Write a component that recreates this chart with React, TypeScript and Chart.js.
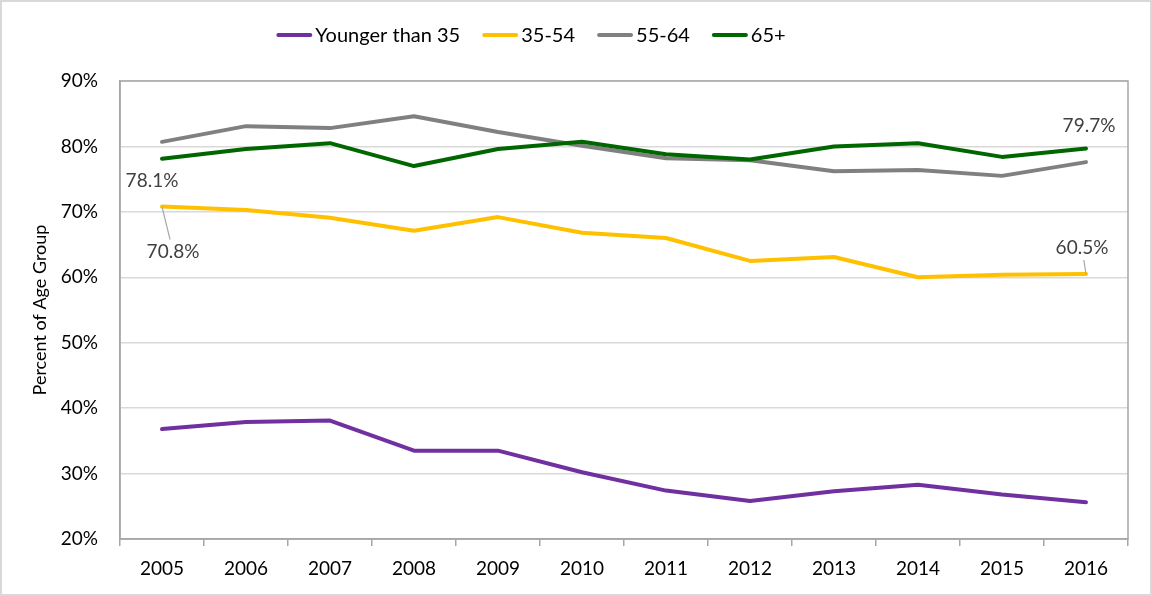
import { useEffect, useRef } from "react";
import { Chart, registerables } from "chart.js";

Chart.register(...registerables);

const years = ["2005", "2006", "2007", "2008", "2009", "2010", "2011", "2012", "2013", "2014", "2015", "2016"];
const youngerThan35 = [36.8, 37.9, 38.1, 33.5, 33.5, 30.2, 27.4, 25.8, 27.3, 28.3, 26.8, 25.6];
const age35to54 = [70.8, 70.3, 69.1, 67.1, 69.2, 66.8, 66.0, 62.5, 63.1, 60.0, 60.4, 60.5];
const age55to64 = [80.7, 83.1, 82.8, 84.6, 82.2, 80.1, 78.2, 77.9, 76.2, 76.4, 75.5, 77.6];
const age65plus = [78.1, 79.6, 80.5, 77.0, 79.6, 80.7, 78.8, 78.0, 80.0, 80.5, 78.4, 79.7];
const seriesNames = ["Younger than 35", "35-54", "55-64", "65+"];
const seriesColors = ["#7030a0", "#ffc000", "#808080", "#006600"];
const yMin = 20;
const yMax = 90;
const yStep = 10;
const yTitle = "Percent of Age Group";

// annotated points: [datasetIndex, pointIndex]
const labelledPoints = [
  [3, 0],
  [1, 0],
  [3, 11],
  [1, 11],
];
// label offsets relative to the point + optional leader line
const labelStyles = [
  { dx: -10, dy: 22, leader: false },
  { dx: 11, dy: 45, leader: true },
  { dx: 3, dy: -23, leader: false },
  { dx: -4, dy: -26, leader: true },
];

const fontFamily = "Lato, 'Open Sans', sans-serif";

const framePlugin = {
  id: "frame",
  beforeDraw(chart: any) {
    const ctx = chart.ctx;
    ctx.save();
    ctx.fillStyle = "#ffffff";
    ctx.fillRect(0, 0, chart.width, chart.height);
    ctx.strokeStyle = "#d9d9d9";
    ctx.lineWidth = 2;
    ctx.strokeRect(1, 1, chart.width - 2, chart.height - 2);
    ctx.restore();
  },
  beforeDatasetsDraw(chart: any) {
    const { ctx, chartArea } = chart;
    ctx.save();
    ctx.strokeStyle = "#a6a6a6";
    ctx.lineWidth = 1.5;
    ctx.strokeRect(chartArea.left, chartArea.top, chartArea.right - chartArea.left, chartArea.bottom - chartArea.top);
    ctx.restore();
  },
};

const legendPlugin = {
  id: "customLegend",
  afterDraw(chart: any) {
    const ctx = chart.ctx;
    ctx.save();
    ctx.font = `20px ${fontFamily}`;
    const lineW = 36;
    const gapText = 3;
    const gapItem = 22;
    let total = 0;
    seriesNames.forEach((n, i) => {
      total += lineW + gapText + ctx.measureText(n).width + (i < seriesNames.length - 1 ? gapItem : 0);
    });
    let x = 531 - total / 2;
    const y = 35;
    seriesNames.forEach((name, i) => {
      ctx.strokeStyle = seriesColors[i];
      ctx.lineWidth = 4;
      ctx.lineCap = "round";
      ctx.beginPath();
      ctx.moveTo(x + 2, y);
      ctx.lineTo(x + lineW - 2, y);
      ctx.stroke();
      ctx.fillStyle = "#000000";
      ctx.textBaseline = "middle";
      ctx.textAlign = "left";
      ctx.fillText(name, x + lineW + gapText, y + 1);
      x += lineW + gapText + ctx.measureText(name).width + gapItem;
    });
    ctx.restore();
  },
};

const dataLabelPlugin = {
  id: "pointLabels",
  afterDatasetsDraw(chart: any) {
    const ctx = chart.ctx;
    ctx.save();
    ctx.font = `19px ${fontFamily}`;
    ctx.fillStyle = "#404040";
    ctx.textAlign = "center";
    ctx.textBaseline = "middle";
    labelledPoints.forEach(([di, pi], k) => {
      const el = chart.getDatasetMeta(di).data[pi];
      const value = chart.data.datasets[di].data[pi] as number;
      const st = labelStyles[k];
      const lx = el.x + st.dx;
      const ly = el.y + st.dy;
      if (st.leader) {
        ctx.strokeStyle = "#a6a6a6";
        ctx.lineWidth = 1.2;
        ctx.beginPath();
        ctx.moveTo(el.x, el.y);
        const endY = st.dy > 0 ? ly - 12 : ly + 12;
        const endX = el.x + (lx - el.x) * ((endY - el.y) / (ly - el.y));
        ctx.lineTo(endX, endY);
        ctx.stroke();
      }
      ctx.fillText(value.toFixed(1) + "%", lx, ly);
    });
    ctx.restore();
  },
};

export default function App() {
  const ref = useRef<HTMLCanvasElement | null>(null);

  useEffect(() => {
    if (!ref.current) return;
    const seriesData = [youngerThan35, age35to54, age55to64, age65plus];
    const drawOrder = [3, 2, 1, 0];
    const chart = new Chart(ref.current, {
      type: "line",
      data: {
        labels: years,
        datasets: seriesNames.map((name, i) => ({
          label: name,
          data: seriesData[i],
          borderColor: seriesColors[i],
          backgroundColor: seriesColors[i],
          borderWidth: 4,
          pointRadius: 0,
          pointHoverRadius: 0,
          tension: 0,
          borderJoinStyle: "round" as const,
          borderCapStyle: "round" as const,
          fill: false,
          order: drawOrder[i],
        })),
      },
      options: {
        responsive: false,
        animation: false,
        devicePixelRatio: 1,
        layout: { padding: { top: 81, right: 24, bottom: 0, left: 0 } },
        plugins: {
          legend: { display: false },
          tooltip: { enabled: false },
        },
        scales: {
          x: {
            type: "category",
            offset: true,
            grid: {
              offset: true,
              drawOnChartArea: false,
              drawTicks: true,
              tickLength: 7,
              color: "#a6a6a6",
              lineWidth: 1.5,
            },
            border: { display: true, color: "#a6a6a6", width: 1.5 },
            ticks: {
              color: "#000000",
              font: { family: fontFamily, size: 19 },
              padding: 11,
              maxRotation: 0,
              autoSkip: false,
            },
            afterFit: (scale: any) => {
              scale.height = 57;
            },
          },
          y: {
            min: yMin,
            max: yMax,
            grid: {
              color: "#d9d9d9",
              lineWidth: 1.5,
              drawTicks: false,
            },
            border: { display: true, color: "#a6a6a6", width: 1.5 },
            ticks: {
              stepSize: yStep,
              color: "#000000",
              font: { family: fontFamily, size: 19 },
              padding: 22,
              callback: (v: any) => `${v}%`,
            },
            title: {
              display: true,
              text: yTitle,
              color: "#000000",
              font: { family: fontFamily, size: 18 },
              padding: { top: 29, bottom: 0 },
            },
            afterFit: (scale: any) => {
              scale.width = 120;
            },
          },
        },
      },
      plugins: [framePlugin, legendPlugin, dataLabelPlugin],
    });
    return () => chart.destroy();
  }, []);

  return (
    <div style={{ position: "absolute", left: 0, top: 0, width: 1152, height: 596 }}>
      <canvas ref={ref} width={1152} height={596} style={{ display: "block" }} />
    </div>
  );
}
